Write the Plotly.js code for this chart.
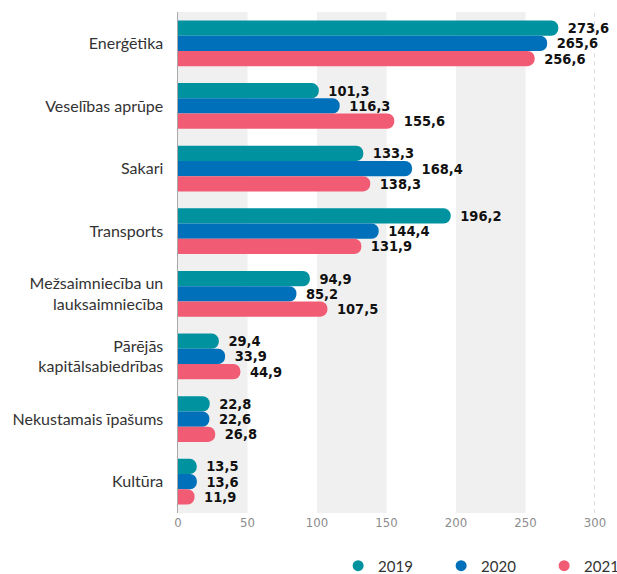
<!DOCTYPE html>
<html>
<head>
<meta charset="utf-8">
<script src="https://cdn.plot.ly/plotly-3.0.1.min.js"></script>
<style>html,body{margin:0;padding:0;background:#fff}#chart{width:617px;height:574px}</style>
</head>
<body>
<div id="chart"></div>
<script>
const categories = ["Enerģētika", "Veselības aprūpe", "Sakari", "Transports",
  "Mežsaimniecība un<br>lauksaimniecība", "Pārējās<br>kapitālsabiedrības",
  "Nekustamais īpašums", "Kultūra"];
const years = ["2019", "2020", "2021"];
const values2019 = [273.6, 101.3, 133.3, 196.2, 94.9, 29.4, 22.8, 13.5];
const values2020 = [265.6, 116.3, 168.4, 144.4, 85.2, 33.9, 22.6, 13.6];
const values2021 = [256.6, 155.6, 138.3, 131.9, 107.5, 44.9, 26.8, 11.9];
const tickVals = [0, 50, 100, 150, 200, 250, 300];
const colors = ["#00929F", "#0070BA", "#F15B74"];

const series = [values2019, values2020, values2021];
const fmt = v => "\u2002" + v.toFixed(1).replace(".", ",");

const traces = [];
series.forEach((vals, i) => {
  traces.push({
    type: "bar", orientation: "h", name: years[i],
    y: categories, x: vals,
    marker: {color: colors[i], cornerradius: "50%"},
    text: vals.map(fmt), textposition: "outside", cliponaxis: false,
    constraintext: "none",
    textfont: {family: "DejaVu Sans Condensed, DejaVu Sans", size: 14.5, color: "#111", weight: "bold"},
    hoverinfo: "x+y", showlegend: false
  });
});
years.forEach((yr, i) => {
  traces.push({
    type: "scatter", mode: "markers", name: yr, x: [null], y: [null],
    marker: {color: colors[i], size: 11, symbol: "circle"}, showlegend: true, hoverinfo: "skip"
  });
});

const shapes = [];
for (let k = 0; k + 1 < tickVals.length; k += 2) {
  shapes.push({type: "rect", xref: "x", yref: "paper", x0: tickVals[k], x1: tickVals[k + 1],
    y0: 0, y1: 1, fillcolor: "#F0F0F0", line: {width: 0}, layer: "below"});
}
shapes.push({type: "line", xref: "x", yref: "paper", x0: tickVals[tickVals.length - 1],
  x1: tickVals[tickVals.length - 1], y0: 0, y1: 1, line: {color: "#BBBBBB", width: 1, dash: "4px,4px"}, layer: "below"});

const layout = {
  width: 617, height: 574,
  margin: {l: 178, r: 22, t: 12, b: 61, autoexpand: false},
  paper_bgcolor: "#fff", plot_bgcolor: "#fff",
  barmode: "group", bargap: 0.27, bargroupgap: 0,
  font: {family: "Lato, Open Sans, sans-serif", color: "#333"},
  xaxis: {range: [0, 300], tickvals: tickVals, showgrid: false, zeroline: false,
    showline: false, ticks: "", fixedrange: true,
    tickfont: {family: "Liberation Sans Narrow, DejaVu Sans Condensed, sans-serif", size: 13, color: "#8C8C8C"}},
  yaxis: {autorange: "reversed", showgrid: false, zeroline: false, showline: true,
    linecolor: "#AAAAAA", linewidth: 1.5, ticks: "", ticklabelstandoff: 10,
    tickfont: {family: "Lato, Open Sans, sans-serif", size: 16, color: "#333"}},
  shapes: shapes,
  showlegend: true,
  legend: {orientation: "h", xref: "container", yref: "container", x: 0.548, xanchor: "left",
    y: 0.014, yanchor: "middle",
    font: {family: "Lato, Open Sans, sans-serif", size: 15, color: "#333"},
    entrywidth: 58, entrywidthmode: "pixels", itemwidth: 30, bgcolor: "rgba(0,0,0,0)"}
};

Plotly.newPlot("chart", traces, layout, {displayModeBar: false, staticPlot: true});
</script>
</body>
</html>
